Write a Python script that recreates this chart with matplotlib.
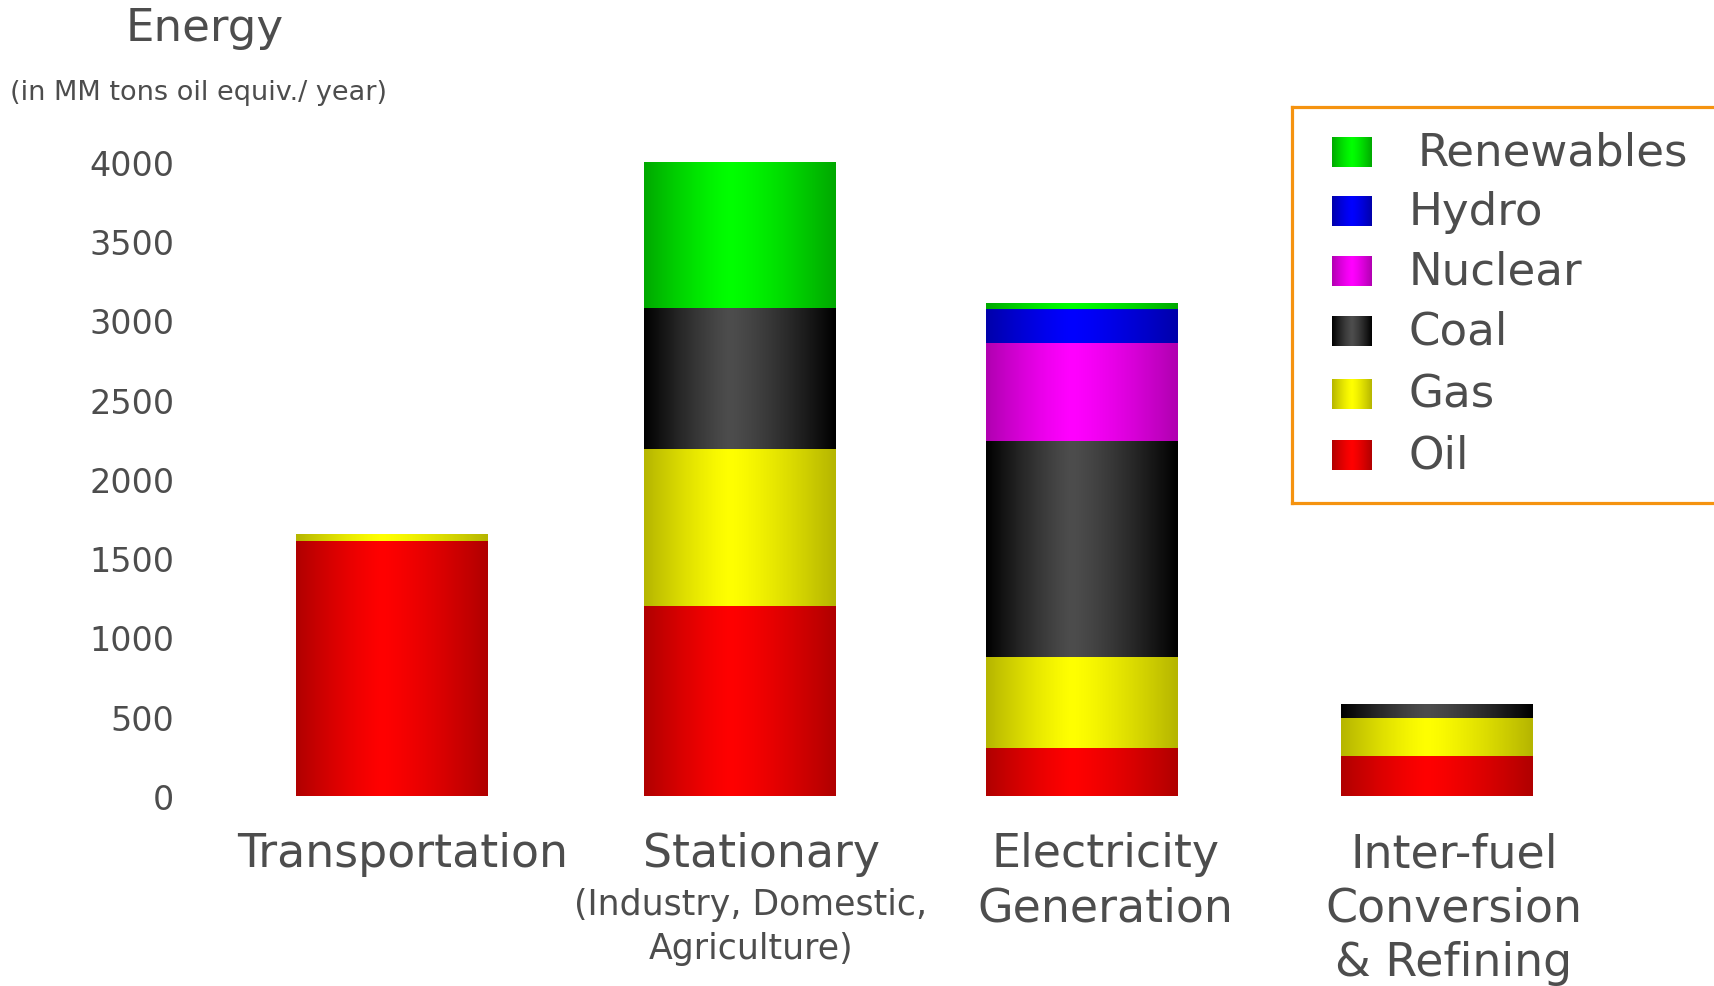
import numpy as np
import matplotlib.pyplot as plt
import matplotlib.colors as mcolors
import matplotlib.transforms as mtransforms

# data (MM tons oil equiv. / year)
categories = ["Transportation", "Stationary", "Electricity\nGeneration",
              "Inter-fuel\nConversion\n& Refining"]
sub_labels = ["", "(Industry, Domestic,\nAgriculture)", "", ""]
series = ["Oil", "Gas", "Coal", "Nuclear", "Hydro", "Renewables"]
oil = [1610, 1200, 305, 255]
gas = [45, 990, 570, 235]
coal = [0, 890, 1365, 90]
nuclear = [0, 0, 615, 0]
hydro = [0, 0, 215, 0]
renewables = [0, 920, 40, 0]
yticks = [0, 500, 1000, 1500, 2000, 2500, 3000, 3500, 4000]

# bright centre colour / dark edge colour for the cylinder look
shades = {
    "Oil": ("#ff0000", "#b00000"),
    "Gas": ("#ffff00", "#b5b500"),
    "Coal": ("#4d4d4d", "#000000"),
    "Nuclear": ("#ff00ff", "#b000b0"),
    "Hydro": ("#0000ff", "#0000aa"),
    "Renewables": ("#00ff00", "#00a800"),
}
txt = "#4d4d4d"
W, H = 1715, 987


def gradient(hi, lo, n=256, peak=0.45):
    t = np.linspace(0, 1, n)
    s = np.where(t < peak, (peak - t) / peak, (t - peak) / (1 - peak))
    k = (s ** 1.3)[:, None]
    hi = np.array(mcolors.to_rgb(hi))
    lo = np.array(mcolors.to_rgb(lo))
    return (hi * (1 - k) + lo * k)[None, :, :]


fig = plt.figure(figsize=(W / 100, H / 100), dpi=100)
ax = fig.add_axes([180 / W, (H - 797) / H, (W - 180) / W, 634 / H])

x = np.array([0, 1, 1.98, 3])
width = 0.55
bottom = np.zeros(len(categories))
values = [oil, gas, coal, nuclear, hydro, renewables]
for name, vals in zip(series, values):
    bars = ax.bar(x, vals, width, bottom=bottom, color=shades[name][0],
                  linewidth=0, zorder=1)
    g = gradient(*shades[name])
    for rect in bars:
        if rect.get_height() <= 0:
            continue
        x0, y0 = rect.get_x(), rect.get_y()
        im = ax.imshow(g, extent=(x0, x0 + rect.get_width(), y0, y0 + rect.get_height()),
                       aspect="auto", interpolation="bilinear", zorder=2)
        im.set_clip_path(rect)
    bottom += np.array(vals)

ax.set_xlim(-0.609, 3.80)
ax.set_ylim(0, 4000)
ax.set_yticks(yticks)
ax.set_xticks([])
ax.tick_params(axis="y", length=0, pad=4, labelsize=24, labelcolor=txt)
for sp in ax.spines.values():
    sp.set_visible(False)

# category labels under the bars
trans = mtransforms.blended_transform_factory(ax.transData, fig.transFigure)
label_dx = [0.03, 0.06, 0.07, 0.05]
for i, lab in enumerate(categories):
    ax.text(x[i] + label_dx[i], 1 - 832 / H, lab, transform=trans, ha="center",
            va="top", fontsize=33, color=txt, linespacing=1.27)
    if sub_labels[i]:
        ax.text(x[i] + 0.03, 1 - 888 / H, sub_labels[i], transform=trans,
                ha="center", va="top", fontsize=25, color=txt, linespacing=1.38)

fig.text(126 / W, 1 - 41 / H, "Energy", fontsize=32.5, color=txt, va="baseline")
fig.text(10 / W, 1 - 100 / H, "(in MM tons oil equiv./ year)", fontsize=19.5,
         color=txt, va="baseline")

# legend box drawn by hand so the swatches keep the shading
lax = fig.add_axes([1292 / W, (H - 504) / H, (W - 1292) / W, 396 / H])
row_y = [45, 104, 164, 224, 287, 348]
for yc, name in zip(row_y, series[::-1]):
    lax.imshow(gradient(*shades[name], peak=0.5), extent=(40, 80, yc + 15, yc - 15),
               aspect="auto", interpolation="bilinear")
    lx = 126 if name == "Renewables" else 117
    lax.text(lx, yc, name, fontsize=32.5, color=txt, va="center")
lax.set_xlim(0, W - 1292)
lax.set_ylim(396, 0)
lax.set_xticks([])
lax.set_yticks([])
for side, sp in lax.spines.items():
    sp.set_color("#f5930f")
    sp.set_linewidth(2.3)
lax.spines["right"].set_visible(False)

fig.savefig("out.png", dpi=100)
